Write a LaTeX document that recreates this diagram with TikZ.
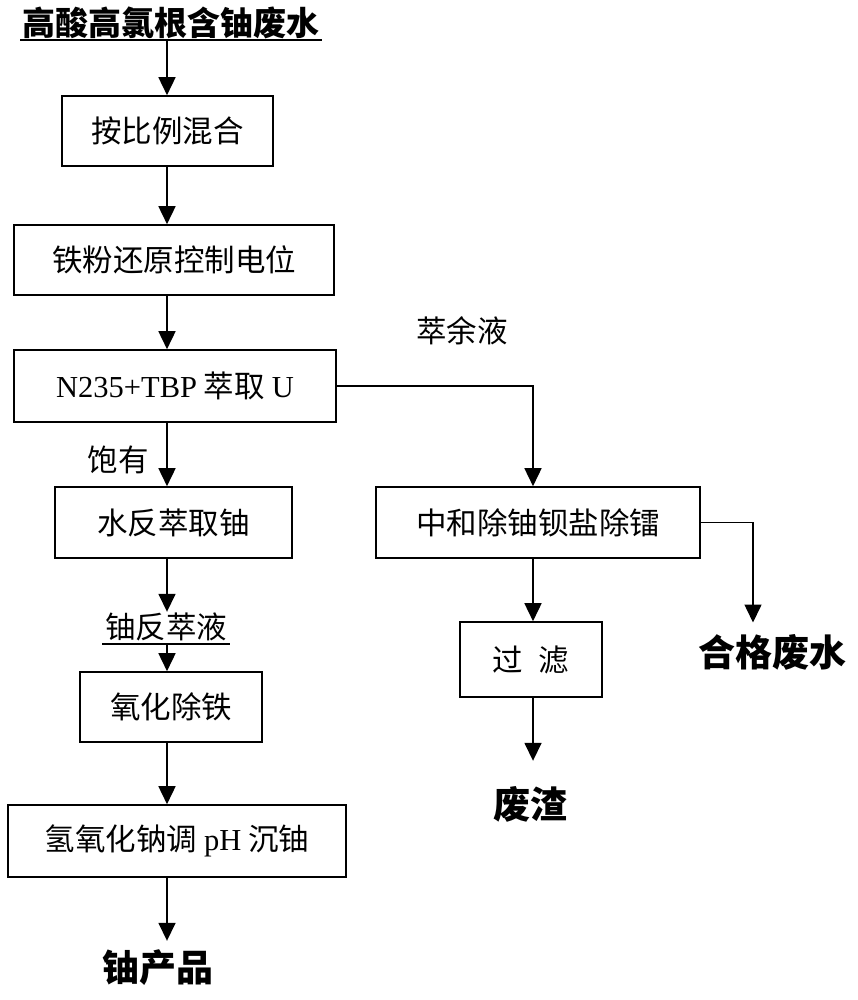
\documentclass[tikz,border=0pt]{standalone}
\usepackage{fontspec}
\setmainfont{Liberation Serif}
\newfontfamily\cjk{Noto Sans CJK SC}
\usetikzlibrary{arrows.meta}
\tikzset{
  x=1pt, y=-1pt,
  box/.style={draw, line width=1.6pt, inner sep=0pt, font=\fontsize{30.5}{34}\selectfont\cjk},
  lbl/.style={inner sep=0pt, font=\fontsize{30.5}{34}\selectfont\cjk},
  big/.style={inner sep=0pt, font=\fontsize{37}{42}\selectfont\cjk\bfseries},
  flow/.style={line width=1.6pt, -{Triangle[width=17pt,length=18pt]}},
  seg/.style={line width=1.4pt}
}
\begin{document}
\begin{tikzpicture}
\useasboundingbox (0,0) rectangle (857,1000);
\coordinate (s) at (167,0);
\coordinate (r) at (533,0);
\coordinate (q) at (753,0);
\node[big, font=\fontsize{33}{38}\selectfont\cjk\bfseries, minimum width=302pt, minimum height=30pt] (title) at (171,23) {高酸高氯根含铀废水};
\draw[seg] (20,40) coordinate (ul1) -- (322,40) coordinate (ul2);
\node[box, minimum width=211pt, minimum height=70pt] (b1) at (167.5,131) {按比例混合};
\node[box, minimum width=320pt, minimum height=70pt] (b2) at (174,260) {铁粉还原控制电位};
\node[box, minimum width=322pt, minimum height=72pt] (b3) at (175,386) {{\rmfamily N235+TBP} 萃取 {\rmfamily U}};
\node[box, minimum width=237pt, minimum height=71pt] (b4) at (173.5,522.5) {水反萃取铀};
\node[box, minimum width=324pt, minimum height=71pt] (b5) at (538,522.5) {中和除铀钡盐除镭};
\node[box, minimum width=142pt, minimum height=75pt] (b6) at (531,659.5) {过\hspace{0.5em}滤};
\node[box, minimum width=182pt, minimum height=70pt] (b7) at (171,707) {氧化除铁};
\node[box, minimum width=338pt, minimum height=72pt] (b8) at (177,841) {氢氧化钠调 {\rmfamily pH} 沉铀};
\node[lbl] (l1) at (462,331) {萃余液};
\node[lbl] (l2) at (118,460) {饱有};
\node[lbl, minimum height=30pt] (l3) at (166,627) {铀反萃液};
\draw[seg] (102,644) coordinate (u1) -- (230,644) coordinate (u2);
\node[big] (o1) at (772,652) {合格废水};
\node[big] (o2) at (530,804) {废渣};
\node[big] (o3) at (158,968) {铀产品};
\draw[flow] (ul1 -| s) -- (b1.north -| s);
\draw[flow] (b1.south -| s) -- (b2.north -| s);
\draw[flow] (b2.south -| s) -- (b3.north -| s);
\draw[flow] (b3.south -| s) -- (b4.north -| s);
\draw[flow] (b4.south -| s) -- (l3.north -| s);
\draw[flow] (u1 -| s) -- (b7.north -| s);
\draw[flow] (b7.south -| s) -- (b8.north -| s);
\draw[flow] (b8.south -| s) -- ++(0,63);
\draw[flow] (b3.east) -- (b3.east -| r) -- (b5.north -| r);
\draw[flow] (b5.east) -- (b5.east -| q) -- ++(0,100);
\draw[flow] (b5.south -| r) -- (b6.north -| r);
\draw[flow] (b6.south -| r) -- ++(0,63);
\end{tikzpicture}
\end{document}
